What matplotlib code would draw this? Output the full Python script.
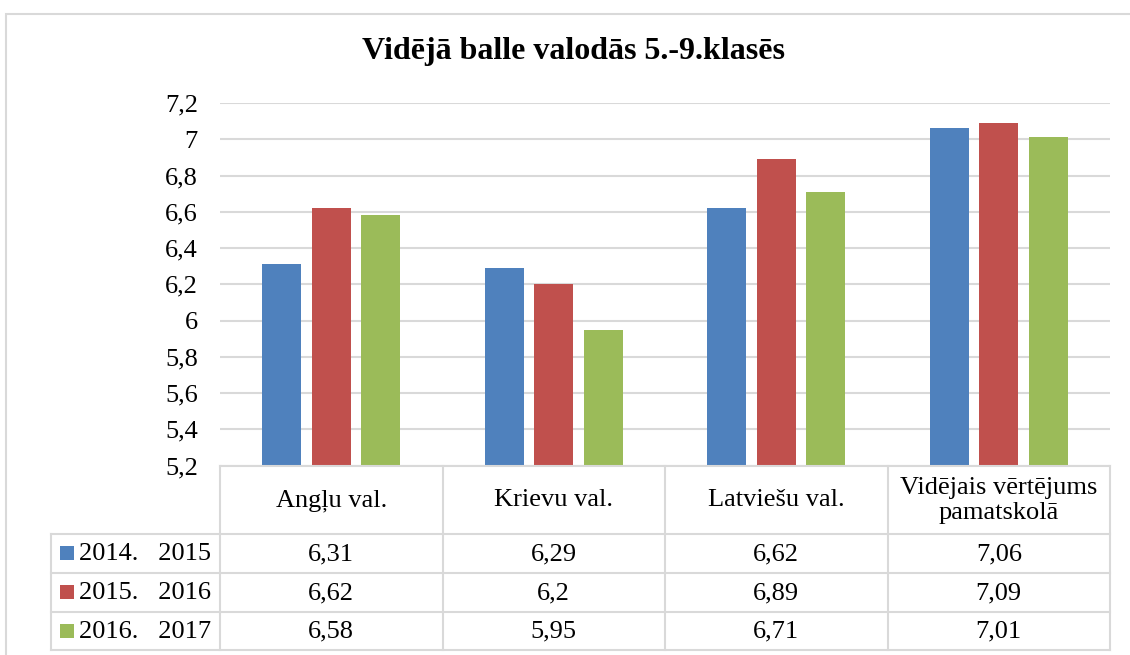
import matplotlib
matplotlib.use("Agg")
import matplotlib.pyplot as plt
import numpy as np
from matplotlib.lines import Line2D
from matplotlib.patches import Rectangle

plt.rcParams['font.family'] = ['Liberation Serif', 'DejaVu Serif']

title = "Vidējā balle valodās 5.-9.klasēs"
categories = ["Angļu val.", "Krievu val.", "Latviešu val.", "Vidējais vērtējums\npamatskolā"]
series_names = ["2014.   2015", "2015.   2016", "2016.   2017"]
v2014 = [6.31, 6.29, 6.62, 7.06]
v2015 = [6.62, 6.20, 6.89, 7.09]
v2016 = [6.58, 5.95, 6.71, 7.01]
series = [v2014, v2015, v2016]
colors = ["#4F81BD", "#C0504D", "#9BBB59"]
yticks = [5.2, 5.4, 5.6, 5.8, 6.0, 6.2, 6.4, 6.6, 6.8, 7.0, 7.2]

W, H = 1130, 655
fig = plt.figure(figsize=(W / 100, H / 100), dpi=100)
FS = 19

def fx(x):
    return x / W

def fy(y):
    return 1 - y / H

# outer border
fig.add_artist(Rectangle((fx(6), fy(700)), fx(1200), 686 / H, transform=fig.transFigure,
                         fill=False, edgecolor="#d9d9d9", linewidth=1.5))

L, R, T, B = 220, 1110, 103, 465.5
ax = fig.add_axes([fx(L), fy(B), fx(R - L), (B - T) / H])
n = len(categories)
x = np.arange(n)
bw = 0.175
off = 0.222
for i, (vals, c) in enumerate(zip(series, colors)):
    ax.bar(x + (i - 1) * off, vals, bw, color=c, zorder=3)
ax.set_xlim(-0.5, n - 0.5)
ax.set_ylim(yticks[0], yticks[-1])
ax.set_yticks(yticks)
ax.set_yticklabels([f"{v:g}".replace('.', ',') for v in yticks], fontsize=FS)
ax.tick_params(axis='y', length=0, pad=16)
ax.set_xticks([])
for s in ax.spines.values():
    s.set_visible(False)
ax.yaxis.grid(True, color="#d9d9d9", linewidth=1.5, zorder=0)
ax.set_axisbelow(True)

fig.text(fx(573), fy(52), title, ha='center', va='center', fontsize=23, fontweight='bold')

# data table
lc = "#d9d9d9"
lw = 1.5
col_x = [L + (R - L) * k / n for k in range(n + 1)]
row_y = [B, 533.5, 572.5, 611.5, 650]
leg_left = 51

def hline(y, x0, x1):
    fig.add_artist(Line2D([fx(x0), fx(x1)], [fy(y), fy(y)], transform=fig.transFigure,
                          color=lc, linewidth=lw))

def vline(x0, y0, y1):
    fig.add_artist(Line2D([fx(x0), fx(x0)], [fy(y0), fy(y1)], transform=fig.transFigure,
                          color=lc, linewidth=lw))

hline(row_y[0], L, R)
for y in row_y[1:]:
    hline(y, leg_left, R)
for cx in col_x:
    vline(cx, row_y[0], row_y[-1])
vline(leg_left, row_y[1], row_y[-1])

for k, cat in enumerate(categories):
    cx = (col_x[k] + col_x[k + 1]) / 2
    fig.text(fx(cx), fy((row_y[0] + row_y[1]) / 2 + 1), cat, ha='center', va='center',
             fontsize=FS, linespacing=1.2)

for i, (name, vals, c) in enumerate(zip(series_names, series, colors)):
    yc = (row_y[i + 1] + row_y[i + 2]) / 2
    fig.add_artist(Rectangle((fx(60), fy(yc + 7)), fx(14), 14 / H, transform=fig.transFigure,
                             facecolor=c, edgecolor='none'))
    fig.text(fx(79), fy(yc + 1), name, ha='left', va='center', fontsize=FS)
    for k, v in enumerate(vals):
        cx = (col_x[k] + col_x[k + 1]) / 2
        fig.text(fx(cx), fy(yc + 1), f"{v:g}".replace('.', ','), ha='center', va='center',
                 fontsize=FS)

fig.savefig("out.png", dpi=100)
